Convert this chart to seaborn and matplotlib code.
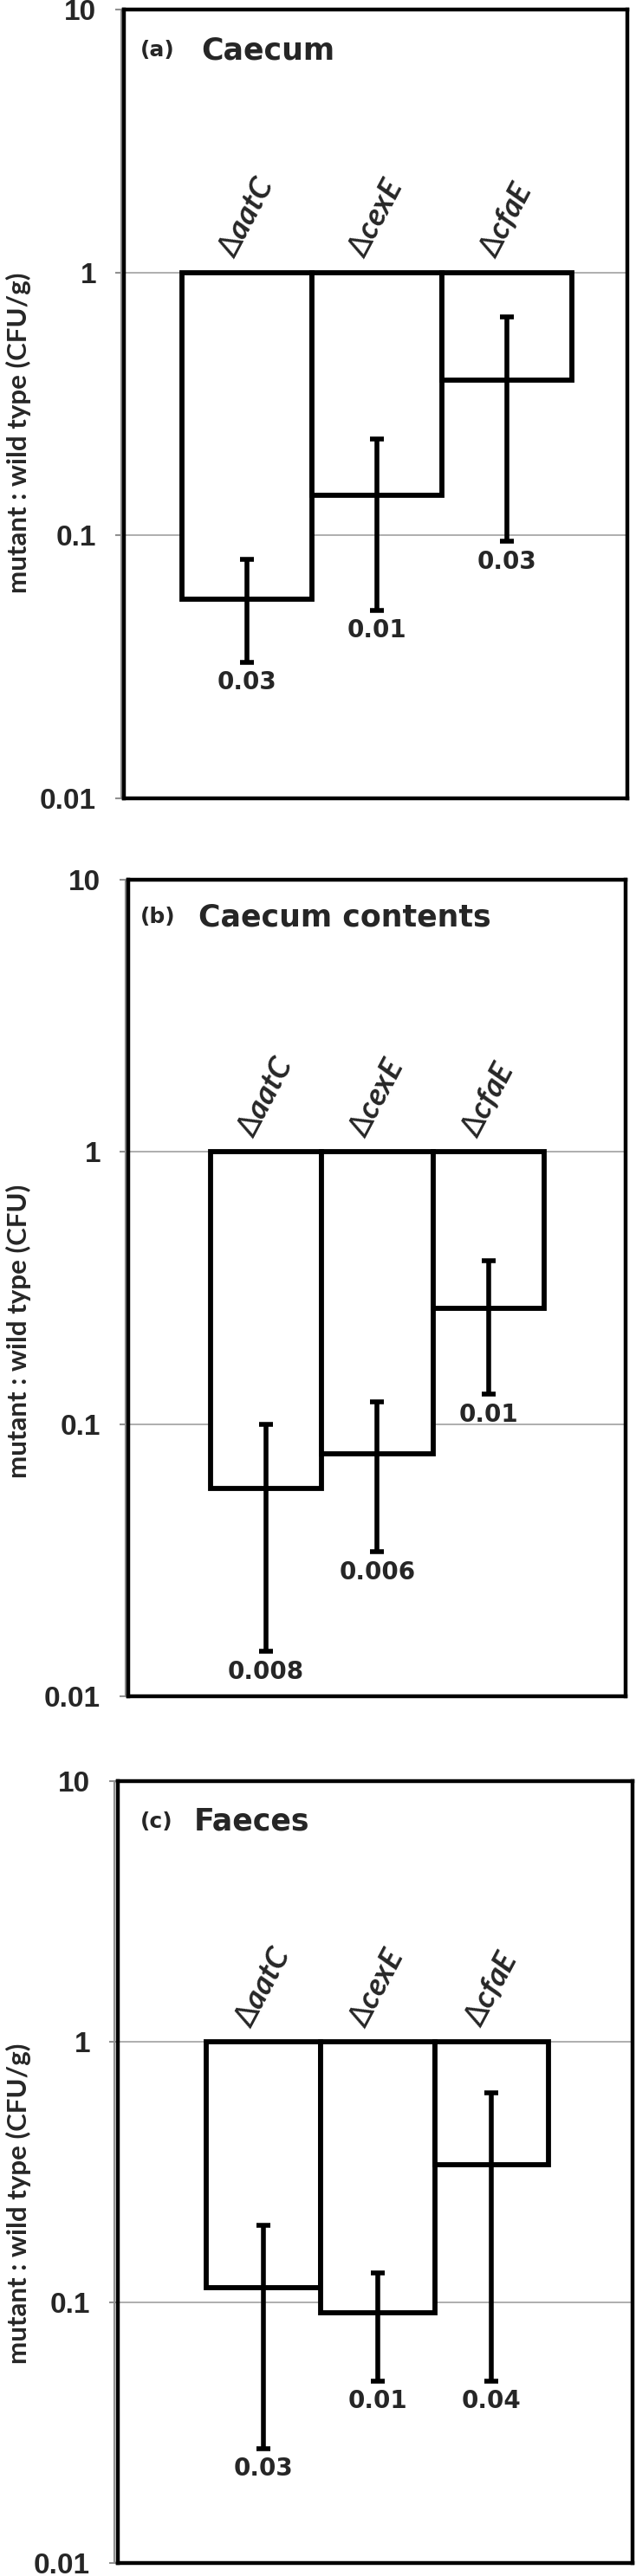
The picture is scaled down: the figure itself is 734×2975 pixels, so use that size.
import numpy as np
import pandas as pd
import seaborn as sns
import matplotlib.pyplot as plt
from matplotlib.lines import Line2D
from matplotlib.ticker import NullLocator

# data (mutant : wild type ratios, log scale)
genes = ["aatC", "cexE", "cfaE"]

caecum_ratio = [0.057, 0.142, 0.39]
caecum_low = [0.033, 0.052, 0.095]
caecum_high = [0.081, 0.232, 0.68]
caecum_p = ["0.03", "0.01", "0.03"]

contents_ratio = [0.058, 0.078, 0.267]
contents_low = [0.0146, 0.034, 0.129]
contents_high = [0.100, 0.121, 0.398]
contents_p = ["0.008", "0.006", "0.01"]

faeces_ratio = [0.114, 0.091, 0.337]
faeces_low = [0.0275, 0.050, 0.050]
faeces_high = [0.198, 0.130, 0.636]
faeces_p = ["0.03", "0.01", "0.04"]

sns.set_theme(style="white")
plt.rcParams['font.family'] = ['DejaVu Sans']
plt.rcParams['mathtext.fontset'] = 'custom'
plt.rcParams['mathtext.it'] = 'Lato:italic:bold'
plt.rcParams['mathtext.rm'] = 'DejaVu Sans'

W, H = 734, 2975
fig = plt.figure(figsize=(W / 100, H / 100), dpi=100)


def panel(box, xlim, ratio, low, high, pvals, tag, title, tag_x, title_x, title_y,
          ylabel, ylab_y):
    left, top, right, bottom = box
    ax = fig.add_axes([left / W, 1 - bottom / H, (right - left) / W, (bottom - top) / H])

    ratio = np.array(ratio)
    low = np.array(low)
    high = np.array(high)

    # bars hang down from 1 to the ratio
    df = pd.DataFrame({"gene": genes, "drop": ratio - 1})
    sns.barplot(data=df, x="gene", y="drop", bottom=1, width=1.0, color="white",
                edgecolor="black", linewidth=4.2, errorbar=None, ax=ax, zorder=2)
    ax.set_yscale("log")

    xs = np.arange(len(genes))
    ax.errorbar(xs, ratio, yerr=[ratio - low, high - ratio], fmt="none",
                ecolor="black", elinewidth=4, capsize=5.5, capthick=4, zorder=3)

    ax.set_ylim(0.01, 10)
    ax.set_xlim(*xlim)
    ax.set_xticks([])
    ax.set_xlabel("")
    ax.set_ylabel("")
    ax.set_yticks([0.01, 0.1, 1, 10])
    ax.set_yticklabels(["0.01", "0.1", "1", "10"])
    ax.yaxis.set_minor_locator(NullLocator())
    ax.tick_params(axis="y", which="major", left=True, length=7, width=1.5,
                   color="#909090", pad=16, labelsize=24)
    for lbl in ax.get_yticklabels():
        lbl.set_fontweight("bold")
        lbl.set_family("Liberation Sans")
    ax.yaxis.grid(True, color="#a8a8a8", lw=1.3)
    ax.set_axisbelow(True)
    for s in ax.spines.values():
        s.set_color("black")
        s.set_linewidth(3.2)
    ax.add_line(Line2D([-0.006, -0.006], [0, 1], transform=ax.transAxes,
                       color="#909090", lw=1.6, clip_on=False))

    for i, g in enumerate(genes):
        ax.annotate(rf"$\Delta\mathit{{{g}}}$", xy=(i, 1), xytext=(0, 8),
                    textcoords="offset points", rotation=62, ha="center",
                    va="bottom", fontsize=26)
        ax.annotate(pvals[i], xy=(i, low[i]), xytext=(0, -7),
                    textcoords="offset points", ha="center", va="top",
                    fontsize=20, fontweight="bold")

    ax.text(tag_x, title_y, tag, transform=ax.transAxes, ha="left", va="center",
            fontsize=18, fontweight="bold")
    ax.text(title_x, title_y, title, transform=ax.transAxes, ha="left", va="center",
            fontsize=25, fontweight="bold")

    fig.text(21 / W, 1 - ylab_y / H, ylabel, rotation=90, ha="center", va="center",
             fontsize=22.5, fontweight="bold", family="Lato")
    return ax


panel((143, 11, 724, 922), (-0.945, 2.926), caecum_ratio, caecum_low, caecum_high,
      caecum_p, "(a)", "Caecum", 0.033, 0.153, 0.948,
      "mutant : wild type (CFU/g)", 500)
panel((148, 1016, 722, 1959), (-1.238, 3.233), contents_ratio, contents_low,
      contents_high, contents_p, "(b)", "Caecum contents", 0.024, 0.141, 0.954,
      "mutant : wild type (CFU)", 1537)
panel((136, 2057, 730, 2960), (-1.276, 3.235), faeces_ratio, faeces_low, faeces_high,
      faeces_p, "(c)", "Faeces", 0.044, 0.148, 0.948,
      "mutant : wild type (CFU/g)", 2545)

fig.savefig("out.png", dpi=100)
